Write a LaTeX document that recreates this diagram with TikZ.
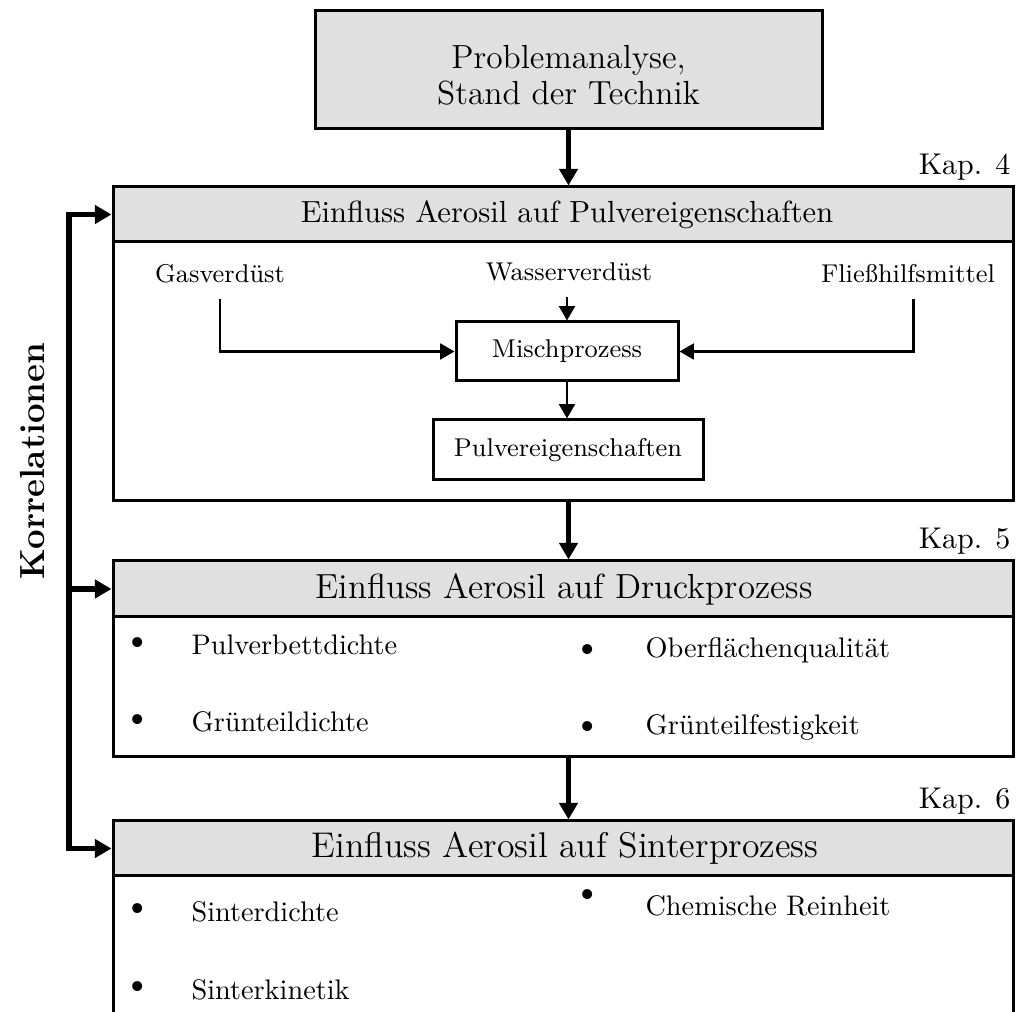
\documentclass[tikz,border=0pt]{standalone}
\usepackage{fontspec}
\usetikzlibrary{arrows.meta,fit}
\definecolor{hdrgray}{RGB}{224,224,224}
\tikzset{
  box/.style={draw, line width=1.05pt, inner sep=0pt},
  hdr/.style={box, fill=hdrgray},
  bigarrow/.style={line width=1.85pt, line join=miter, -{Triangle[length=5.8pt,width=6.3pt]}},
  bigboth/.style={line width=1.85pt, line join=miter, {Triangle[length=5.8pt,width=6.3pt]}-{Triangle[length=5.8pt,width=6.3pt]}},
  inarrow/.style={line width=0.95pt, line join=miter, -{Triangle[length=5pt,width=5.5pt]}},
  toptxt/.style={font=\fontsize{11.7}{12.6}\selectfont, align=center, inner sep=0pt},
  hdrtxt/.style={font=\fontsize{10.7}{12}\selectfont, inner sep=0pt},
  kaptxt/.style={font=\fontsize{10.5}{12}\selectfont, inner sep=0pt},
  lbl/.style={font=\fontsize{9}{11}\selectfont, inner sep=0pt, text depth=0pt, outer ysep=5.6pt},
  smalltxt/.style={font=\fontsize{9}{11}\selectfont, inner sep=0pt},
  itemtxt/.style={font=\fontsize{9.9}{12}\selectfont, inner sep=0pt, anchor=base west},
  bul/.style={font=\fontsize{13}{14}\selectfont, inner sep=0pt},
  sidetxt/.style={font=\fontsize{12.2}{14}\selectfont\bfseries, inner sep=0pt, rotate=90, anchor=base}
}
\begin{document}
\begin{tikzpicture}[x=0.35pt,y=-0.35pt]
\useasboundingbox (0,0) rectangle (1016,1012);
\clip (0,0) rectangle (1016,1012);

% top box
\node[hdr, fit={(315,11)(822,129)}] (top) {};
\node[toptxt] (toptext) at ([yshift=-1.8pt]top.center) {Problemanalyse,\\Stand der Technik};

% section 1
\node[box, fit={(113,242)(1013,501)}] (b1) {};
\node[hdr, fit={(113,187)(1013,242)}] (h1) {};
\node[hdrtxt] (h1t) at ([xshift=1.4pt]h1.center) {Einfluss Aerosil auf Pulvereigenschaften};
\node[kaptxt, anchor=base east] (k4) at (1011,175) {Kap. 4};

\node[lbl, anchor=base] (gas) at (220,283) {Gasverdüst};
\node[lbl, anchor=base] (wasser) at (569,281) {Wasserverdüst};
\node[lbl, anchor=base] (fliess) at (908,283) {Fließhilfsmittel};
\node[box, fit={(456,322)(678,381)}] (misch) {};
\node[smalltxt] (mischt) at (misch.center) {Mischprozess};
\node[box, fit={(433,420)(703,480)}] (pulv) {};
\node[smalltxt] (pulvt) at (pulv.center) {Pulvereigenschaften};

\draw[inarrow] (gas.south) |- (misch.west);
\draw[inarrow] (wasser.south -| misch.north) -- (misch.north);
\draw[inarrow] ([xshift=2pt]fliess.south) |- (misch.east);
\draw[inarrow] (misch.south) -- (misch.south |- pulv.north);

% section 2
\node[box, fit={(113,617)(1013,757)}] (b2) {};
\node[hdr, fit={(113,561)(1013,617)}] (h2) {};
\node[hdrtxt, font=\fontsize{12.2}{14}\selectfont] (h2t) at ([xshift=0.4pt]h2.center) {Einfluss Aerosil auf Druckprozess};
\node[kaptxt, anchor=base east] (k5) at (1011,549) {Kap. 5};

\node[bul] (p1) at (138,645) {\textbullet};
\node[itemtxt] (t1) at (191,655) {Pulverbettdichte};
\node[bul] (p2) at (138,722) {\textbullet};
\node[itemtxt] (t2) at (191,732) {Grünteildichte};
\node[bul] (p3) at (588,652) {\textbullet};
\node[itemtxt] (t3) at (645,658) {Oberflächenqualität};
\node[bul] (p4) at (588,729) {\textbullet};
\node[itemtxt] (t4) at (645,735) {Grünteilfestigkeit};

% section 3
\node[box, fit={(113,876)(1013,1040)}] (b3) {};
\node[hdr, fit={(113,821)(1013,876)}] (h3) {};
\node[hdrtxt, font=\fontsize{12.5}{14}\selectfont] (h3t) at ([xshift=0.7pt]h3.center) {Einfluss Aerosil auf Sinterprozess};
\node[kaptxt, anchor=base east] (k6) at (1011,809) {Kap. 6};

\node[bul] (p5) at (138,911) {\textbullet};
\node[itemtxt] (t5) at (191,922) {Sinterdichte};
\node[bul] (p6) at (138,989) {\textbullet};
\node[itemtxt] (t6) at (191,1000) {Sinterkinetik};
\node[bul] (p7) at (588,897) {\textbullet};
\node[itemtxt] (t7) at (645,916) {Chemische Reinheit};

% main arrows
\draw[bigarrow] (top.south) -- (top.south |- h1.north);
\draw[bigarrow] (b1.south -| top.south) -- (h2.north -| top.south);
\draw[bigarrow] (b2.south -| top.south) -- (h3.north -| top.south);

% correlation bus
\coordinate (bus) at (69,0);
\draw[bigboth] (h1.west) -- (h1.west -| bus) -- (h3.west -| bus) -- (h3.west);
\draw[bigarrow] (h2.west -| bus) -- (h2.west);
\node[sidetxt] (korr) at (44,461) {Korrelationen};
\end{tikzpicture}
\end{document}
